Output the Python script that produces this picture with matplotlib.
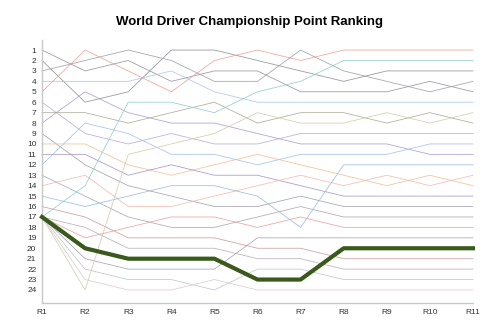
import matplotlib
matplotlib.use("Agg")
import matplotlib.pyplot as plt

plt.rcParams["font.family"] = ["Liberation Sans", "DejaVu Sans"]

rounds = ["R1", "R2", "R3", "R4", "R5", "R6", "R7", "R8", "R9", "R10", "R11"]

# championship position of each driver after each round (R1 ties at 17)
others = [
    [1, 3, 2, 4, 3, 3, 5, 5, 5, 4, 5],
    [2, 6, 5, 1, 1, 2, 3, 4, 3, 3, 3],
    [3, 2, 1, 2, 4, 4, 1, 3, 4, 5, 4],
    [4, 4, 4, 3, 5, 6, 6, 6, 6, 6, 6],
    [5, 1, 3, 5, 2, 1, 2, 1, 1, 1, 1],
    [6, 9, 10, 9, 10, 10, 9, 9, 9, 9, 9],
    [7, 7, 8, 7, 6, 8, 7, 7, 8, 7, 8],
    [8, 5, 7, 8, 8, 9, 10, 10, 10, 11, 11],
    [9, 12, 14, 15, 16, 16, 15, 16, 16, 16, 16],
    [10, 10, 12, 13, 12, 11, 12, 13, 14, 13, 14],
    [11, 11, 13, 12, 13, 13, 14, 15, 15, 15, 15],
    [12, 8, 9, 11, 11, 12, 11, 11, 11, 10, 10],
    [13, 15, 17, 18, 18, 17, 16, 17, 17, 17, 17],
    [14, 13, 16, 16, 15, 14, 13, 14, 13, 14, 13],
    [15, 16, 15, 14, 14, 15, 18, 12, 12, 12, 12],
    [16, 17, 19, 19, 19, 20, 20, 21, 21, 21, 21],
    [17, 14, 6, 6, 7, 5, 4, 2, 2, 2, 2],
    [17, 19, 18, 17, 17, 18, 17, 18, 18, 18, 18],
    [17, 18, 20, 20, 20, 21, 21, 22, 22, 22, 22],
    [17, 21, 22, 22, 22, 19, 19, 19, 19, 19, 19],
    [17, 22, 23, 23, 24, 22, 22, 23, 23, 23, 23],
    [17, 24, 11, 10, 9, 7, 8, 8, 7, 8, 7],
    [17, 23, 24, 24, 23, 24, 24, 24, 24, 24, 24],
]
highlight = [17, 20, 21, 21, 21, 23, 23, 20, 20, 20, 20]

colors = ["#8e8e9e", "#8a8a96", "#9a9aa6", "#a8c4e4", "#eba08e", "#b4a8dc",
          "#a8a890", "#a898d0", "#9c9cb0", "#f2bc90", "#a090c8", "#9ec0e8",
          "#a4a4b4", "#f0b8a8", "#98b8e0", "#c89898", "#8ccaca", "#e89c9c",
          "#b8a8b8", "#a0a0b0", "#c0c0d0", "#d4c8a4", "#d8c8d0"]

fig = plt.figure(figsize=(5, 3.33), dpi=100)
ax = fig.add_axes([0.084, 0.090, 0.862, 0.791])

x = list(range(len(rounds)))
for r, c in zip(others, colors):
    ax.plot(x, r, color=c, lw=0.6, alpha=0.85, clip_on=False)
ax.plot(x, highlight, color="#3a5a1c", lw=3.0, clip_on=False, zorder=5)

ax.set_xlim(0, 10)
ax.set_ylim(25.25, 0)
ax.set_yticks(range(1, 25))
ax.set_xticks(x)
ax.set_xticklabels(rounds)
ax.tick_params(length=0, labelsize=6, colors="#333333", pad=4)
for s in ["top", "right"]:
    ax.spines[s].set_visible(False)
for s in ["left", "bottom"]:
    ax.spines[s].set_color("#c8c8c8")
    ax.spines[s].set_linewidth(1.0)

fig.text(0.5, 0.935, "World Driver Championship Point Ranking", ha="center",
         va="center", fontsize=9.5, fontweight="bold")

fig.savefig("out.png", dpi=100)
